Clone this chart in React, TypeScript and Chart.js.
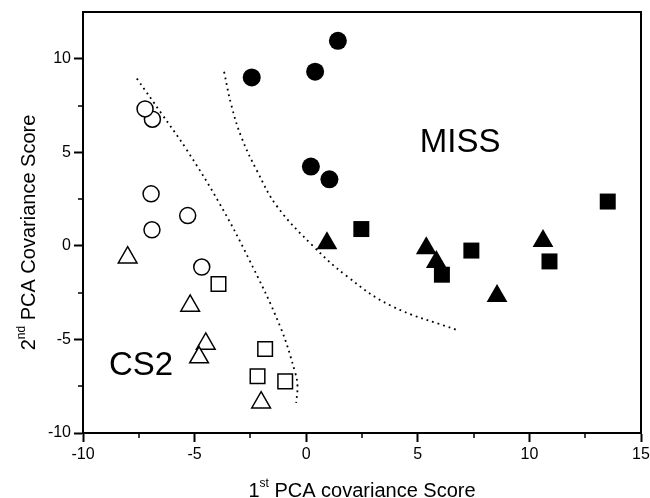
import React, { useEffect, useRef } from "react";
import { Chart, registerables } from "chart.js";

Chart.register(...registerables);

// ---- Data ----
const filledCirclesX = [-2.44, 0.4, 1.42, 0.21, 1.04];
const filledCirclesY = [9.0, 9.31, 10.96, 4.24, 3.56];

const filledSquaresX = [2.47, 7.4, 6.08, 10.9, 13.51];
const filledSquaresY = [0.9, -0.25, -1.54, -0.83, 2.37];

const filledTrianglesX = [0.93, 5.38, 5.83, 8.55, 10.61];
const filledTrianglesY = [0.14, -0.12, -0.86, -2.68, 0.26];

const openCirclesX = [-6.89, -7.22, -6.95, -6.91, -5.31, -4.68];
const openCirclesY = [6.77, 7.32, 2.78, 0.86, 1.62, -1.13];

const openSquaresX = [-3.93, -1.84, -2.18, -0.94];
const openSquaresY = [-2.04, -5.51, -6.97, -7.24];

const openTrianglesX = [-8.0, -5.2, -4.5, -4.8, -2.02];
const openTrianglesY = [-0.62, -3.2, -5.23, -5.96, -8.37];

const leftCurveX = [-7.59, -6.5, -5.35, -3.9, -2.59, -1.17, -0.49, -0.39, -0.45];
const leftCurveY = [8.95, 7.1, 5.13, 2.3, -0.65, -4.3, -6.79, -7.5, -8.39];

const rightCurveX = [-3.68, -3.35, -2.9, -2.2, -1.3, 0.3, 1.8, 3.8, 6.83];
const rightCurveY = [9.31, 7.5, 5.8, 4.0, 2.1, 0.0, -1.6, -3.2, -4.53];

const xMajorTicks = [-10, -5, 0, 5, 10, 15];
const yMajorTicks = [-10, -5, 0, 5, 10];
const xMinorTicks = [-7.5, -2.5, 2.5, 7.5, 12.5];
const yMinorTicks = [-7.5, -2.5, 2.5, 7.5];

const groupLabels = ["MISS", "CS2"];
const groupLabelX = [6.9, -7.4];
const groupLabelY = [5.5, -6.4];

const xTitleParts = ["1", "st", " PCA covariance Score"];
const yTitleParts = ["2", "nd", " PCA Covariance Score"];

const FONT = "Arial, 'Liberation Sans', sans-serif";

function pts(xs: number[], ys: number[]) {
  return xs.map((x, i) => ({ x, y: ys[i] }));
}

function drawTitle(ctx: CanvasRenderingContext2D, parts: string[], cx: number, baseline: number) {
  const mainFont = `20px ${FONT}`;
  const supFont = `12px ${FONT}`;
  ctx.font = mainFont;
  const w0 = ctx.measureText(parts[0]).width;
  const w2 = ctx.measureText(parts[2]).width;
  ctx.font = supFont;
  const w1 = ctx.measureText(parts[1]).width;
  let x = cx - (w0 + w1 + w2) / 2;
  ctx.textAlign = "left";
  ctx.textBaseline = "alphabetic";
  ctx.font = mainFont;
  ctx.fillText(parts[0], x, baseline);
  x += w0;
  ctx.font = supFont;
  ctx.fillText(parts[1], x, baseline - 10);
  x += w1;
  ctx.font = mainFont;
  ctx.fillText(parts[2], x, baseline);
}

const decorPlugin = {
  id: "decor",
  afterDraw(chart: any) {
    const { ctx, chartArea: a, scales } = chart;
    const xs = scales.x;
    const ys = scales.y;
    ctx.save();
    ctx.strokeStyle = "#000";
    ctx.fillStyle = "#000";
    ctx.lineWidth = 2;
    ctx.strokeRect(a.left, a.top, a.right - a.left, a.bottom - a.top);

    ctx.lineWidth = 1.5;
    ctx.beginPath();
    for (const v of xMinorTicks) {
      const px = Math.round(xs.getPixelForValue(v));
      ctx.moveTo(px, a.bottom);
      ctx.lineTo(px, a.bottom + 5);
    }
    for (const v of yMinorTicks) {
      const py = Math.round(ys.getPixelForValue(v));
      ctx.moveTo(a.left - 5, py);
      ctx.lineTo(a.left, py);
    }
    ctx.stroke();

    ctx.font = `33px ${FONT}`;
    ctx.textAlign = "center";
    ctx.textBaseline = "middle";
    groupLabels.forEach((t, i) => {
      ctx.fillText(t, xs.getPixelForValue(groupLabelX[i]), ys.getPixelForValue(groupLabelY[i]));
    });

    // x title
    drawTitle(ctx, xTitleParts, (a.left + a.right) / 2, 497);
    // y title
    ctx.save();
    ctx.translate(35, (a.top + a.bottom) / 2 + 10);
    ctx.rotate(-Math.PI / 2);
    drawTitle(ctx, yTitleParts, 0, 0);
    ctx.restore();

    ctx.restore();
  },
};

export default function App() {
  const ref = useRef<HTMLCanvasElement | null>(null);

  useEffect(() => {
    document.body.style.margin = "0";
    const canvas = ref.current;
    if (!canvas) return;
    const filled = { backgroundColor: "#000", borderColor: "#000", borderWidth: 0 };
    const open = { backgroundColor: "#fff", borderColor: "#000", borderWidth: 1.5 };
    const chart = new Chart(canvas, {
      type: "scatter",
      data: {
        datasets: [
          { data: pts(filledSquaresX, filledSquaresY), pointStyle: "rect", pointRadius: 11.3, ...filled },
          { data: pts(filledTrianglesX, filledTrianglesY), pointStyle: "triangle", pointRadius: 12, ...filled },
          { data: pts(filledCirclesX, filledCirclesY), pointStyle: "circle", pointRadius: 9, ...filled },
          { data: pts(openSquaresX, openSquaresY), pointStyle: "rect", pointRadius: 10.3, ...open },
          { data: pts(openTrianglesX, openTrianglesY), pointStyle: "triangle", pointRadius: 10.8, ...open },
          { data: pts(openCirclesX, openCirclesY), pointStyle: "circle", pointRadius: 8, ...open },
          {
            data: pts(leftCurveX, leftCurveY),
            showLine: true,
            pointRadius: 0,
            borderColor: "#000",
            borderWidth: 1.8,
            borderDash: [1.8, 4],
            tension: 0.4,
          } as any,
          {
            data: pts(rightCurveX, rightCurveY),
            showLine: true,
            pointRadius: 0,
            borderColor: "#000",
            borderWidth: 1.8,
            borderDash: [1.8, 4],
            tension: 0.4,
          } as any,
        ],
      },
      options: {
        responsive: false,
        animation: false,
        layout: { autoPadding: false, padding: { top: 12, right: 9, left: 0, bottom: 0 } },
        plugins: { legend: { display: false }, tooltip: { enabled: false } },
        scales: {
          x: {
            type: "linear",
            min: -10,
            max: 15,
            afterFit: (s: any) => {
              s.height = 65;
              s.paddingLeft = 0;
              s.paddingRight = 0;
            },
            afterBuildTicks: (s: any) => {
              s.ticks = xMajorTicks.map((v) => ({ value: v }));
            },
            ticks: {
              includeBounds: false,
              color: "#000",
              font: { family: FONT, size: 16 },
              padding: 3,
              maxRotation: 0,
              autoSkip: false,
            },
            grid: {
              drawOnChartArea: false,
              drawTicks: true,
              tickLength: 9,
              tickWidth: 2,
              tickColor: "#000",
            },
            border: { display: true, color: "#000", width: 2 },
          },
          y: {
            type: "linear",
            min: -10,
            max: 12.5,
            afterFit: (s: any) => {
              s.width = 83;
              s.paddingTop = 0;
              s.paddingBottom = 0;
            },
            afterBuildTicks: (s: any) => {
              s.ticks = yMajorTicks.map((v) => ({ value: v }));
            },
            ticks: {
              includeBounds: false,
              color: "#000",
              font: { family: FONT, size: 16 },
              padding: 3,
              autoSkip: false,
            },
            grid: {
              drawOnChartArea: false,
              drawTicks: true,
              tickLength: 9,
              tickWidth: 2,
              tickColor: "#000",
            },
            border: { display: true, color: "#000", width: 2 },
          },
        },
      },
      plugins: [decorPlugin],
    } as any);
    return () => chart.destroy();
  }, []);

  return <canvas ref={ref} width={650} height={498} style={{ display: "block" }} />;
}
